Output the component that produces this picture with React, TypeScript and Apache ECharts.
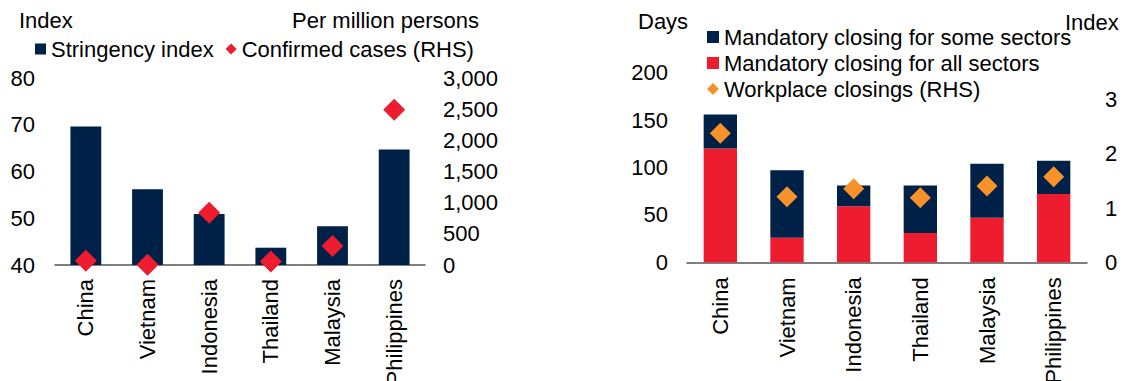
import React, { useEffect, useRef } from "react";
import * as echarts from "echarts";

// Shared categories
const countries = ["China", "Vietnam", "Indonesia", "Thailand", "Malaysia", "Philippines"];

// Left panel: stringency index (LHS) and confirmed cases per million (RHS)
const stringencyIndex = [69.6, 56.2, 50.9, 43.7, 48.3, 64.7];
const confirmedCases = [70, 5, 840, 55, 305, 2490];

// Right panel: days of mandatory closing (stacked) and workplace closing index (RHS)
const closingAllSectors = [120, 26, 59, 31, 47, 72];
const closingSomeSectors = [36, 71, 22, 50, 57, 35];
const workplaceClosings = [2.38, 1.21, 1.36, 1.19, 1.41, 1.58];

const NAVY = "#002147";
const RED = "#ed1c2e";
const ORANGE = "#f7922a";
const FONT = "Arial, 'Liberation Sans', Helvetica, sans-serif";
const FS = 22;

const textStyle = { fontFamily: FONT, fontSize: FS, color: "#000" };

const catAxis = (gridIndex: number, margin: number) => ({
  type: "category",
  gridIndex,
  data: countries,
  axisLine: { show: true, lineStyle: { color: "#555", width: 1.5 } },
  axisTick: { show: false },
  axisLabel: { ...textStyle, rotate: 90, margin, interval: 0 },
  splitLine: { show: false },
});

const valAxis = (
  gridIndex: number,
  position: "left" | "right",
  min: number,
  max: number,
  interval: number,
  margin: number,
  extra: any = {}
) => ({
  type: "value",
  gridIndex,
  position,
  min,
  max,
  interval,
  axisLine: { show: false },
  axisTick: { show: false },
  splitLine: { show: false },
  axisLabel: { ...textStyle, margin, ...extra },
});

export default function App() {
  const ref = useRef<HTMLDivElement>(null);

  useEffect(() => {
    if (!ref.current) return;
    const chart = echarts.init(ref.current, null, { renderer: "svg" });
    chart.setOption({
      animation: false,
      backgroundColor: "#fff",
      textStyle: { fontFamily: FONT },
      grid: [
        { left: 55, top: 78, width: 370, height: 187, outerBoundsMode: "none", containLabel: false },
        { left: 687, top: 72.7, width: 400, height: 189.6, outerBoundsMode: "none", containLabel: false },
      ],
      xAxis: [catAxis(0, 14), catAxis(1, 15)],
      yAxis: [
        valAxis(0, "left", 40, 80, 10, 20),
        valAxis(0, "right", 0, 3000, 500, 18, {
          formatter: (v: number) => v.toLocaleString("en-US"),
        }),
        valAxis(1, "left", 0, 200, 50, 19),
        valAxis(1, "right", 0, 3.5, 1, 18, { showMaxLabel: false }),
      ],
      legend: [
        {
          left: 35,
          top: 38,
          padding: 0,
          orient: "horizontal",
          itemWidth: 11,
          itemHeight: 11,
          itemGap: 12,
          textStyle: { ...textStyle },
          data: [
            { name: "Stringency index", icon: "rect" },
            { name: "Confirmed cases (RHS)", icon: "diamond" },
          ],
        },
        {
          left: 707,
          top: 26,
          padding: 0,
          orient: "vertical",
          itemWidth: 12,
          itemHeight: 12,
          itemGap: 4,
          textStyle: { ...textStyle },
          data: [
            { name: "Mandatory closing for some sectors", icon: "rect" },
            { name: "Mandatory closing for all sectors", icon: "rect" },
            { name: "Workplace closings (RHS)", icon: "diamond" },
          ],
        },
      ],
      graphic: [
        { type: "text", left: 19, top: 9, style: { text: "Index", font: `${FS}px ${FONT}`, fill: "#000" } },
        { type: "text", left: 292, top: 9, style: { text: "Per million persons", font: `${FS}px ${FONT}`, fill: "#000" } },
        { type: "text", left: 638, top: 10, style: { text: "Days", font: `${FS}px ${FONT}`, fill: "#000" } },
        { type: "text", left: 1065, top: 11, style: { text: "Index", font: `${FS}px ${FONT}`, fill: "#000" } },
      ],
      series: [
        {
          name: "Stringency index",
          type: "bar",
          xAxisIndex: 0,
          yAxisIndex: 0,
          barWidth: "50%",
          itemStyle: { color: NAVY },
          data: stringencyIndex,
        },
        {
          name: "Confirmed cases (RHS)",
          type: "scatter",
          xAxisIndex: 0,
          yAxisIndex: 1,
          symbol: "diamond",
          symbolSize: 22,
          itemStyle: { color: RED, opacity: 1 },
          data: confirmedCases,
          z: 5,
        },
        {
          name: "Mandatory closing for all sectors",
          type: "bar",
          xAxisIndex: 1,
          yAxisIndex: 2,
          stack: "days",
          barWidth: "50%",
          itemStyle: { color: RED },
          data: closingAllSectors,
        },
        {
          name: "Mandatory closing for some sectors",
          type: "bar",
          xAxisIndex: 1,
          yAxisIndex: 2,
          stack: "days",
          barWidth: "50%",
          itemStyle: { color: NAVY },
          data: closingSomeSectors,
        },
        {
          name: "Workplace closings (RHS)",
          type: "scatter",
          xAxisIndex: 1,
          yAxisIndex: 3,
          symbol: "diamond",
          symbolSize: 21,
          itemStyle: { color: ORANGE, opacity: 1 },
          data: workplaceClosings,
          z: 5,
        },
      ],
    });
    return () => chart.dispose();
  }, []);

  return (
    <div
      ref={ref}
      style={{ position: "fixed", left: 0, top: 0, width: 1126, height: 381, background: "#fff" }}
    />
  );
}
